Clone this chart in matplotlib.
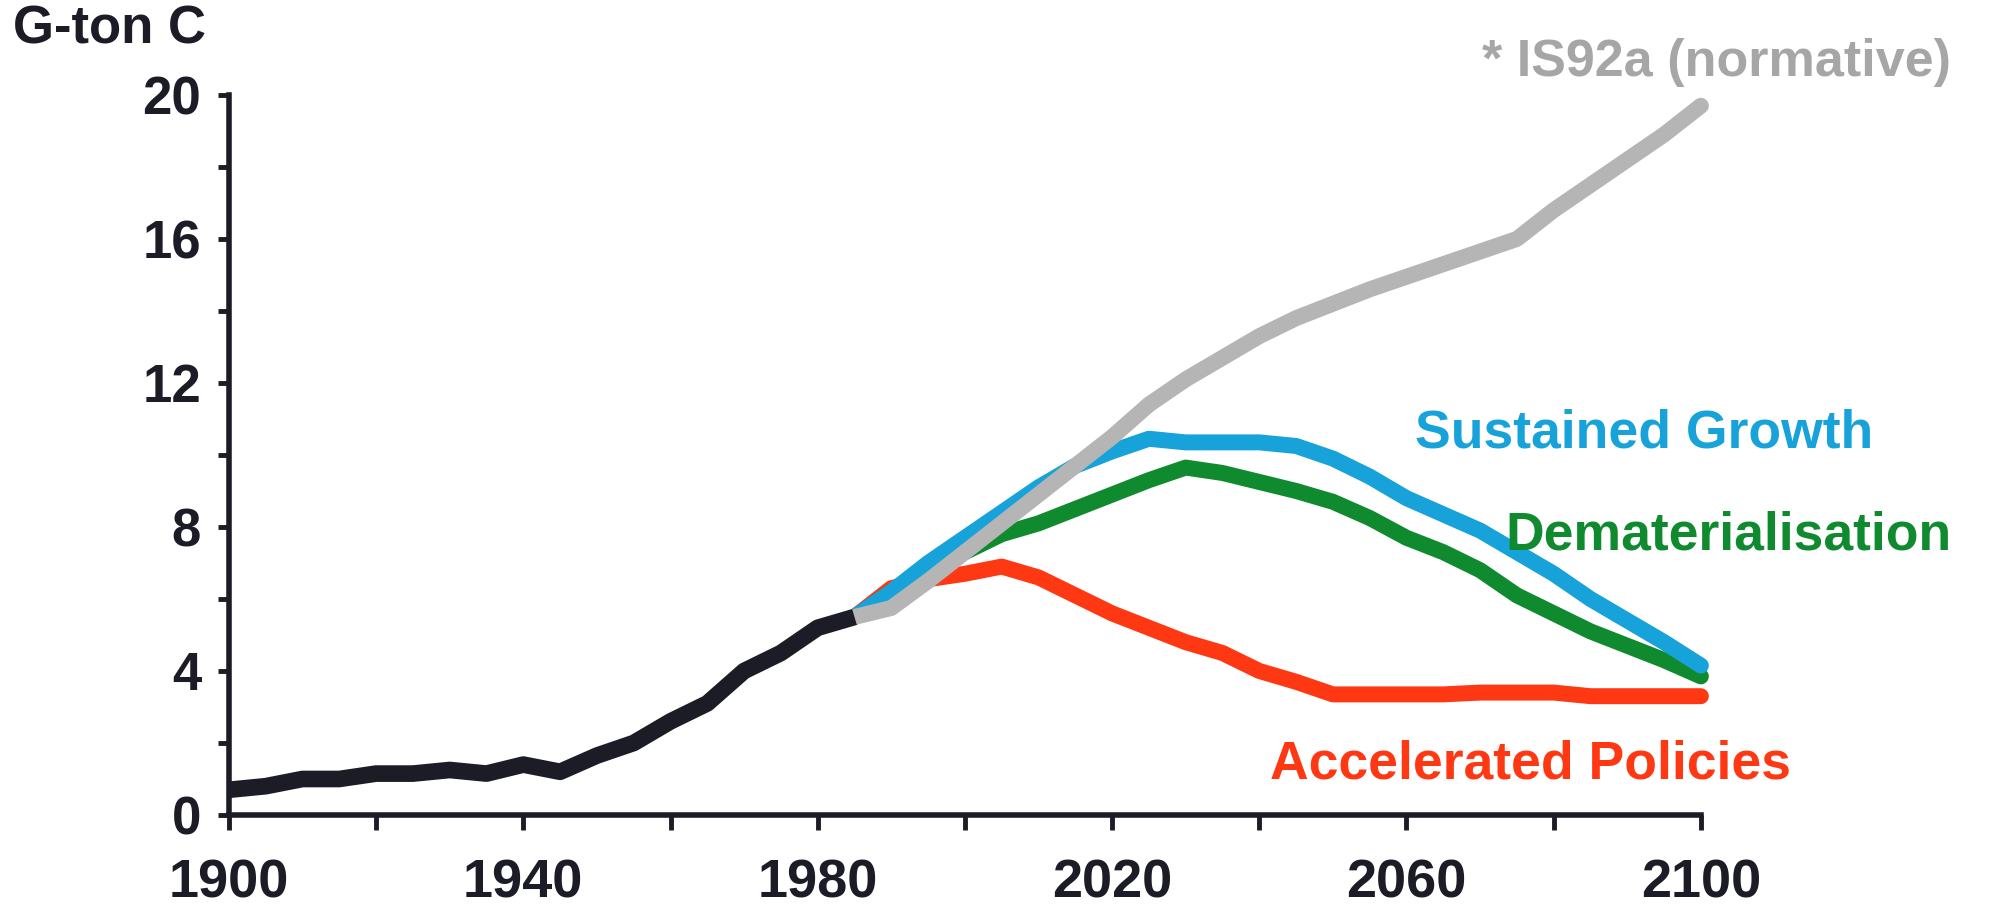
import matplotlib
matplotlib.use("Agg")
import matplotlib.pyplot as plt

# history (black)
hist_years = [1900, 1905, 1910, 1915, 1920, 1925, 1930, 1935, 1940, 1945,
              1950, 1955, 1960, 1965, 1970, 1975, 1980, 1985]
hist_vals = [0.7, 0.8, 1.0, 1.0, 1.15, 1.15, 1.25, 1.15, 1.4, 1.2,
             1.65, 2.0, 2.6, 3.1, 4.0, 4.5, 5.2, 5.5]

scen_years = [1985, 1990, 1995, 2000, 2005, 2010, 2015, 2020, 2025, 2030,
              2035, 2040, 2045, 2050, 2055, 2060, 2065, 2070, 2075, 2080,
              2085, 2090, 2095, 2100]
is92a = [5.5, 5.75, 6.5, 7.3, 8.1, 8.9, 9.7, 10.5, 11.4, 12.1,
         12.7, 13.3, 13.8, 14.2, 14.6, 14.95, 15.3, 15.65, 16.0, 16.8,
         17.5, 18.2, 18.9, 19.7]
sustained = [5.5, 6.2, 7.0, 7.7, 8.4, 9.1, 9.7, 10.1, 10.45, 10.35,
             10.35, 10.35, 10.25, 9.9, 9.4, 8.8, 8.35, 7.9, 7.3, 6.7,
             6.0, 5.4, 4.8, 4.15]
demat = [5.5, 6.2, 6.9, 7.3, 7.8, 8.1, 8.5, 8.9, 9.3, 9.65,
         9.5, 9.25, 9.0, 8.7, 8.25, 7.7, 7.3, 6.8, 6.1, 5.6,
         5.1, 4.7, 4.3, 3.85]
accel = [5.5, 6.3, 6.55, 6.7, 6.9, 6.6, 6.1, 5.6, 5.2, 4.8,
         4.5, 4.0, 3.7, 3.35, 3.35, 3.35, 3.35, 3.4, 3.4, 3.4,
         3.3, 3.3, 3.3, 3.3]

c_black = "#1c1c26"
c_gray = "#b5b5b5"
c_blue = "#17a2da"
c_green = "#0f8a2f"
c_red = "#ff3814"

plt.rcParams['font.family'] = ['Liberation Sans', 'DejaVu Sans']
plt.rcParams['font.weight'] = 'bold'

fig = plt.figure(figsize=(19.94, 9.21), dpi=100)
ax = fig.add_axes([0.1148, 0.1151, 0.853 - 0.1148, 0.8969 - 0.1151])

lw = 11.5
kw = dict(lw=lw, solid_capstyle='round', solid_joinstyle='round', clip_on=False)
ax.plot(scen_years, accel, color=c_red, **kw)
ax.plot(scen_years, demat, color=c_green, **kw)
ax.plot(scen_years, sustained, color=c_blue, **kw)
ax.plot(scen_years, is92a, color=c_gray, **kw)
ax.plot(hist_years, hist_vals, color=c_black, lw=12, solid_capstyle='butt',
        solid_joinstyle='round', clip_on=False)

ax.set_xlim(1900, 2100)
ax.set_ylim(0, 20)

for s in ['top', 'right']:
    ax.spines[s].set_visible(False)
for s in ['left', 'bottom']:
    ax.spines[s].set_linewidth(4)
    ax.spines[s].set_color(c_black)

ax.set_xticks([1900, 1940, 1980, 2020, 2060, 2100])
ax.set_xticks([1920, 1960, 2000, 2040, 2080], minor=True)
ax.set_yticks([0, 4, 8, 12, 16, 20])
ax.set_yticks([2, 6, 10, 14, 18], minor=True)

ax.tick_params(axis='x', which='both', direction='out', length=11, width=3.5, color=c_black,
               labelsize=39, pad=20, labelcolor=c_black)
ax.tick_params(axis='y', which='both', direction='out', length=8, width=3.5, color=c_black,
               labelsize=38, pad=12, labelcolor=c_black)

ax.text(2061.1, 10.6, "Sustained Growth", color=c_blue, fontsize=38.5, fontweight='bold', va='center', ha='left')
ax.text(2073.4, 7.75, "Dematerialisation", color=c_green, fontsize=38.5, fontweight='bold', va='center', ha='left')
ax.text(2041.5, 1.4, "Accelerated Policies", color=c_red, fontsize=38.5, fontweight='bold', va='center', ha='left')
ax.text(2070.2, 20.9, "* IS92a (normative)", color="#a6a6a6", fontsize=37.5, fontweight='bold',
        va='center', ha='left', clip_on=False)

fig.text(13 / 1994, 1 - 29 / 921, "G-ton C", color=c_black, fontsize=38, fontweight='bold', va='center', ha='left')

fig.savefig("out.png", dpi=100, facecolor='white')
